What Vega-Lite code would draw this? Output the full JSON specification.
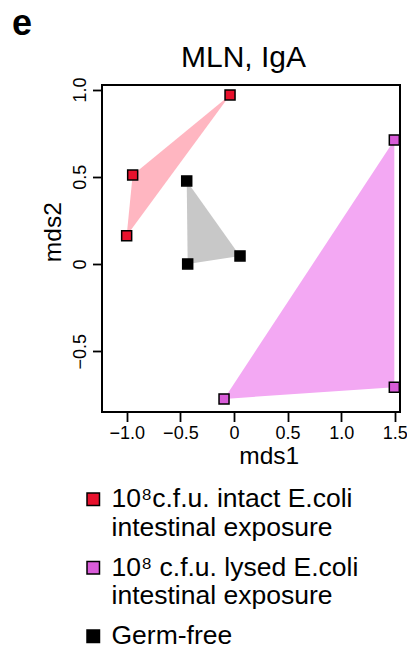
{
  "$schema": "https://vega.github.io/schema/vega-lite/v6.json",
  "width": 298,
  "height": 327,
  "autosize": {"type": "none"},
  "padding": {"left": 102, "top": 85, "right": 7, "bottom": 241},
  "background": "white",
  "title": {"text": "e", "anchor": "start", "frame": "group", "fontSize": 36, "fontWeight": "bold", "font": "Liberation Sans", "color": "black", "dx": -90, "dy": 37, "offset": 9, "baseline": "alphabetic"},
  "data": {"values": [
    {"grp": "10⁸c.f.u. intact E.coli|intestinal exposure", "mds1": -0.037, "mds2": 0.969},
    {"grp": "10⁸c.f.u. intact E.coli|intestinal exposure", "mds1": -0.945, "mds2": 0.510},
    {"grp": "10⁸c.f.u. intact E.coli|intestinal exposure", "mds1": -1.001, "mds2": 0.162},
    {"grp": "Germ-free", "mds1": -0.441, "mds2": 0.476},
    {"grp": "Germ-free", "mds1": -0.432, "mds2": 0.0},
    {"grp": "Germ-free", "mds1": 0.056, "mds2": 0.046},
    {"grp": "10⁸ c.f.u. lysed E.coli|\u2005intestinal exposure", "mds1": 1.495, "mds2": 0.711},
    {"grp": "10⁸ c.f.u. lysed E.coli|\u2005intestinal exposure", "mds1": 1.495, "mds2": -0.707},
    {"grp": "10⁸ c.f.u. lysed E.coli|\u2005intestinal exposure", "mds1": -0.093, "mds2": -0.774}
  ]},
  "encoding": {
    "y": {
      "field": "mds2", "type": "quantitative",
      "scale": {"domain": [-0.849, 1.026], "nice": false, "zero": false},
      "axis": {
        "values": [-0.5, 0, 0.5, 1],
        "labelExpr": "datum.value == 0 ? '0' : replace(format(datum.value, '.1f'), '-', '−')",
        "labelAngle": 270, "labelAlign": "center", "labelBaseline": "alphabetic",
        "labelPadding": 7.5, "tickSize": 9.5,
        "title": "mds2", "titleAngle": 270, "titleAlign": "center", "titleBaseline": "alphabetic",
        "titleX": -42, "titleY": 146.7, "titleFontSize": 24.5
      }
    }
  },
  "layer": [
    {
      "transform": [{"filter": "datum.grp == 'Germ-free'"}],
      "mark": {"type": "line", "interpolate": "linear-closed", "fill": "#C8C8C8", "strokeOpacity": 0},
      "encoding": {
        "x": {
          "field": "mds1", "type": "quantitative",
          "scale": {"domain": [-1.231, 1.548], "nice": false, "zero": false},
          "axis": {
            "orient": "bottom",
            "values": [-1, -0.5, 0, 0.5, 1, 1.5],
            "labelExpr": "datum.value == 0 ? '0' : replace(format(datum.value, '.1f'), '-', '−')",
            "labelAlign": "center", "labelBaseline": "alphabetic", "labelPadding": 16.8, "tickSize": 9.5,
            "title": "mds1", "titleX": 166.7, "titleY": 51.3, "titleAlign": "center", "titleBaseline": "alphabetic", "titleFontSize": 24.5
          }
        }
      }
    },
    {
      "transform": [{"filter": "indexof(datum.grp, 'intact') >= 0"}],
      "mark": {"type": "line", "interpolate": "linear-closed", "fill": "#FFB6C1", "strokeOpacity": 0},
      "encoding": {
        "x": {"field": "mds1", "type": "quantitative", "axis": null}
      }
    },
    {
      "transform": [{"filter": "indexof(datum.grp, 'lysed') >= 0"}],
      "mark": {"type": "line", "interpolate": "linear-closed", "fill": "#F3A8F3", "strokeOpacity": 0},
      "encoding": {
        "x": {"field": "mds1", "type": "quantitative", "axis": null}
      }
    },
    {
      "mark": {"type": "point", "shape": "square", "filled": true, "size": 100, "stroke": "black", "strokeWidth": 1.5, "opacity": 1},
      "encoding": {
        "x": {
          "field": "mds1", "type": "quantitative",
          "axis": {
            "orient": "top", "labels": false, "ticks": false, "domain": false, "grid": false,
            "title": "MLN, IgA", "titleFontSize": 30, "titleFontWeight": "normal",
            "titleX": 141, "titleY": -18.3, "titleAlign": "center", "titleBaseline": "alphabetic"
          }
        },
        "fill": {
          "field": "grp", "type": "nominal",
          "scale": {
            "domain": ["10⁸c.f.u. intact E.coli|intestinal exposure", "10⁸ c.f.u. lysed E.coli|\u2005intestinal exposure", "Germ-free"],
            "range": ["#E8112D", "#D95CD9", "#000000"]
          },
          "legend": {
            "orient": "none", "legendX": -22, "legendY": 401, "title": null, "direction": "vertical",
            "symbolType": "square", "symbolSize": 156, "symbolStrokeColor": "black", "symbolStrokeWidth": 1.5,
            "labelFontSize": 26.5, "labelFont": "Liberation Sans", "labelColor": "black",
            "labelOffset": 5, "rowPadding": 12.5, "labelExpr": "split(datum.label, '|')",
            "labelLimit": 400, "padding": 0
          }
        }
      }
    }
  ],
  "resolve": {"axis": {"x": "independent"}},
  "config": {
    "font": "Liberation Sans",
    "view": {"stroke": "black", "strokeWidth": 2},
    "axis": {
      "grid": false, "domain": false, "tickColor": "black", "tickWidth": 1.8,
      "labelColor": "black", "labelFontSize": 18, "labelFont": "Liberation Sans",
      "titleColor": "black", "titleFont": "Liberation Sans", "titleFontWeight": "normal",
      "labelFlush": false, "labelOverlap": false
    }
  }
}
